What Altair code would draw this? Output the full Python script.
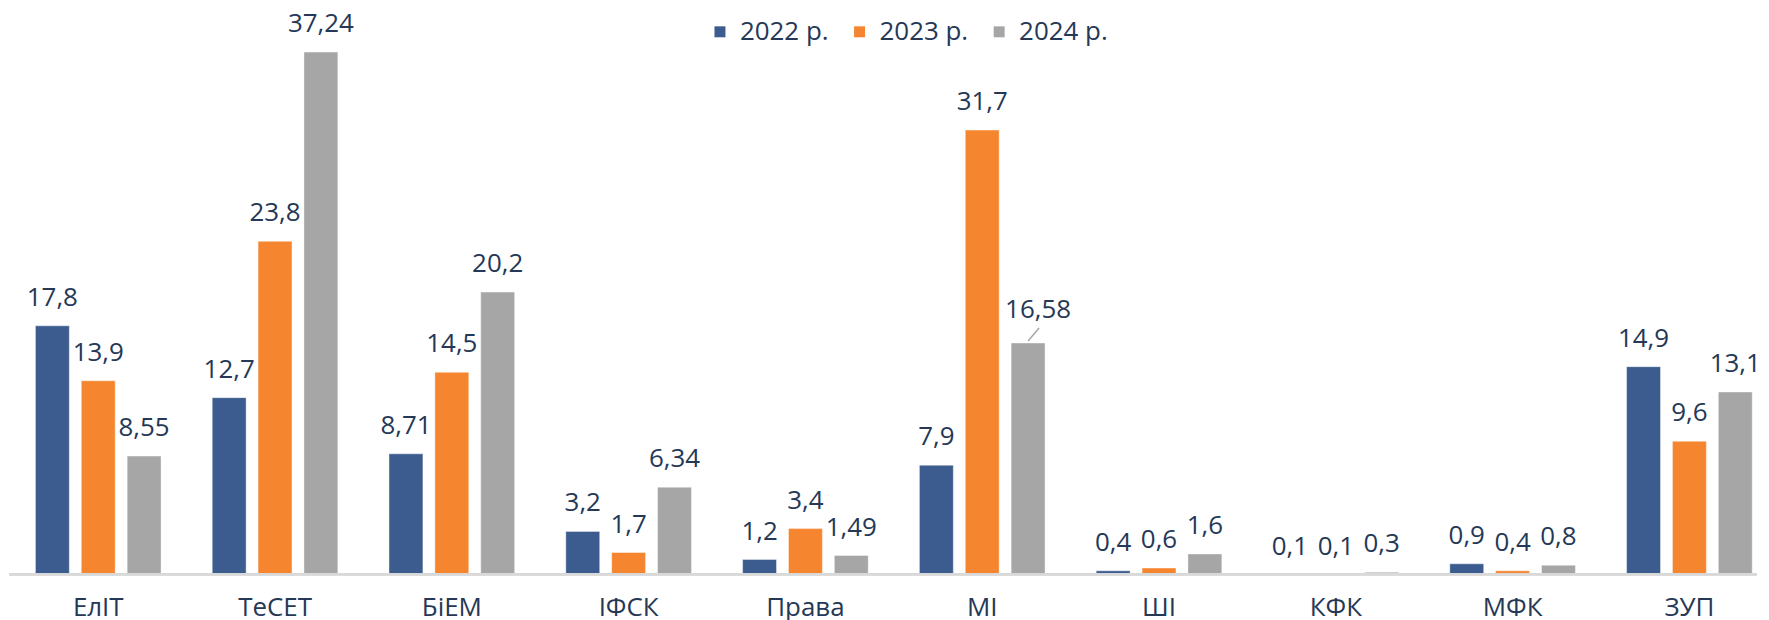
import altair as alt
import pandas as pd

categories = ["ЕлІТ", "ТеСЕТ", "БіЕМ", "ІФСК", "Права", "МІ", "ШІ", "КФК", "МФК", "ЗУП"]
years = ["2022 р.", "2023 р.", "2024 р."]
v2022 = [17.8, 12.7, 8.71, 3.2, 1.2, 7.9, 0.4, 0.1, 0.9, 14.9]
v2023 = [13.9, 23.8, 14.5, 1.7, 3.4, 31.7, 0.6, 0.1, 0.4, 9.6]
v2024 = [8.55, 37.24, 20.2, 6.34, 1.49, 16.58, 1.6, 0.3, 0.8, 13.1]
colors = ["#3C5B8E", "#F6852F", "#A6A6A6"]

rows = []
for i, c in enumerate(categories):
    for y, vals in zip(years, [v2022, v2023, v2024]):
        v = vals[i]
        rows.append({"cat": c, "year": y, "value": v,
                     "label": f"{v:g}".replace(".", ",")})
df = pd.DataFrame(rows)

FONT = "Open Sans"
TXT = "#253856"

xscale = alt.Scale(domain=categories, range=[20.5, 1754.2], paddingInner=0.2217, paddingOuter=0)
xaxis = alt.Axis(title=None, domain=False, ticks=False, tickSize=0, labelPadding=20,
                 labelFont=FONT, labelFontSize=26, labelColor=TXT, labelAngle=0, grid=False)
yscale = alt.Scale(domain=[0.156, 40.31], zero=False, nice=False)
xoff = alt.XOffset("year:N", scale=alt.Scale(domain=years, paddingInner=0.2609, paddingOuter=0.1304))

base = alt.Chart(df)

bars = base.mark_bar(clip=True, stroke="#FFFFFF", strokeWidth=0.6, strokeOpacity=0.7).encode(
    x=alt.X("cat:N", scale=xscale, axis=xaxis, sort=categories),
    xOffset=xoff,
    y=alt.Y("value:Q", scale=yscale, axis=None),
    color=alt.Color("year:N", scale=alt.Scale(domain=years, range=colors),
                    legend=alt.Legend(title=None, orient="none", legendX=700, legendY=10,
                                      direction="horizontal", symbolType="square",
                                      symbolSize=121, symbolStrokeWidth=0,
                                      labelFont=FONT, labelFontSize=26, labelColor=TXT,
                                      labelOffset=7, columnPadding=18, padding=0)),
)

labels = base.transform_filter(
    "!(datum.cat == 'МІ' && datum.year == '2024 р.')"
).mark_text(font=FONT, fontSize=26, color=TXT, baseline="alphabetic", dy=-20).encode(
    x=alt.X("cat:N", scale=xscale, axis=xaxis, sort=categories),
    xOffset=xoff,
    y=alt.Y("value:Q", scale=yscale, axis=None),
    text="label:N",
)

special = base.transform_filter(
    "datum.cat == 'МІ' && datum.year == '2024 р.'"
).mark_text(font=FONT, fontSize=26, color=TXT, baseline="alphabetic", dy=-25, dx=10).encode(
    x=alt.X("cat:N", scale=xscale, axis=xaxis, sort=categories),
    xOffset=xoff,
    y=alt.Y("value:Q", scale=yscale, axis=None),
    text="label:N",
)

leader = base.transform_filter(
    "datum.cat == 'МІ' && datum.year == '2024 р.'"
).mark_rule(color="#A6A6A6", strokeWidth=1.5, xOffset=46, x2Offset=57, yOffset=-2, y2Offset=-15).encode(
    x=alt.X("cat:N", scale=xscale, axis=xaxis, sort=categories),
    x2=alt.X2("cat:N"),
    y=alt.Y("value:Q", scale=yscale, axis=None),
    y2=alt.Y2("value:Q"),
)

axis_line = alt.Chart(df).mark_rule(color="#D9D9D9", strokeWidth=2).encode(
    x=alt.value(0), x2=alt.value(1753), y=alt.value(567)
)

chart = alt.layer(bars, axis_line, labels, special, leader).properties(
    width=1753, height=567, padding=0
).configure_view(stroke=None)

chart.save("out.html", embed_options={"renderer": "svg", "actions": False})
